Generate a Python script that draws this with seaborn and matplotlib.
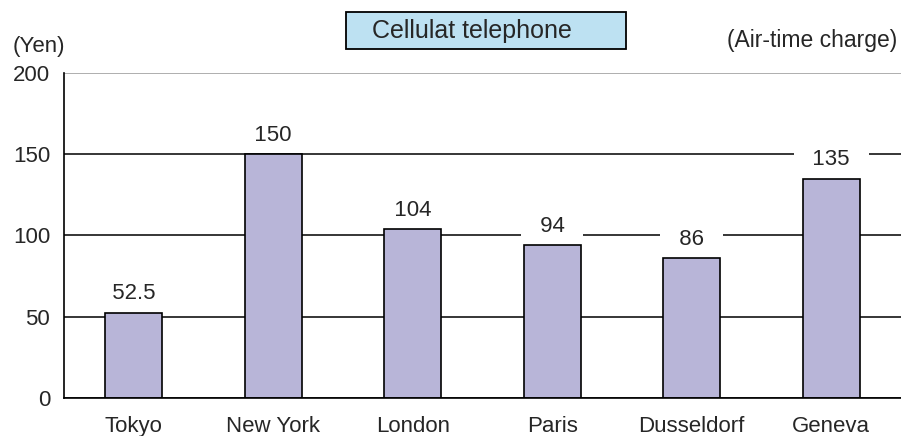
import matplotlib
matplotlib.use("Agg")
import matplotlib.pyplot as plt
import seaborn as sns
import pandas as pd
from matplotlib.patches import Rectangle

cities = ["Tokyo", "New York", "London", "Paris", "Dusseldorf", "Geneva"]
charges = [52.5, 150, 104, 94, 86, 135]
value_labels = ["52.5", "150", "104", "94", "86", "135"]
y_ticks = [0, 50, 100, 150, 200]

df = pd.DataFrame({"city": cities, "charge": charges})

sns.set_style("white")
plt.rcParams["font.family"] = ["Liberation Sans", "DejaVu Sans"]
plt.rcParams["font.size"] = 16

fig = plt.figure(figsize=(9.01, 4.36), dpi=100)
ax = fig.add_axes([0.071, 0.087, 0.929, 0.746])

sns.barplot(data=df, x="city", y="charge", color="#b8b5d8", saturation=1,
            width=0.41, edgecolor="black", linewidth=1.2, ax=ax)
for p in ax.patches:
    p.set_zorder(3)

ax.set_ylim(0, 200)
ax.set_xlim(-0.5, len(cities) - 0.5)
ax.set_yticks(y_ticks)
ax.set_axisbelow(True)
ax.yaxis.grid(True, color="black", linewidth=1.1)
ax.get_ygridlines()[-1].set_color("#999999")

ax.set_xlabel("")
ax.set_ylabel("")
ax.tick_params(axis="x", which="major", length=0, pad=13, labelsize=16)
ax.tick_params(axis="y", which="major", length=0, pad=10, labelsize=16)
ax.set_xticks([i + 0.5 for i in range(len(cities) - 1)], minor=True)
ax.tick_params(axis="x", which="minor", direction="in", length=5, width=1.1, color="black")

for s in ["top", "right"]:
    ax.spines[s].set_visible(False)
for s in ["left", "bottom"]:
    ax.spines[s].set_color("black")
    ax.spines[s].set_linewidth(1.2)
    ax.spines[s].set_zorder(4)

# value labels with white background to break the grid lines
for i, (v, lab) in enumerate(zip(charges, value_labels)):
    ax.annotate(f"  {lab}  ", (i, v), xytext=(0, 6), textcoords="offset points",
                ha="center", va="bottom", fontsize=16, zorder=2,
                bbox=dict(facecolor="white", edgecolor="none", boxstyle="square,pad=0.3"))

# title box
fig.patches.append(Rectangle((0.384, 0.8876), 0.311, 0.0849, transform=fig.transFigure,
                             facecolor="#bde1f2", edgecolor="black", linewidth=1.3))
fig.text(0.413, 0.930, "Cellulat telephone", ha="left", va="center", fontsize=18)

fig.text(0.0144, 0.894, "(Yen)", ha="left", va="center", fontsize=16)
fig.text(0.9956, 0.906, "(Air-time charge)", ha="right", va="center", fontsize=16.5)

fig.savefig("out.png", dpi=100)
